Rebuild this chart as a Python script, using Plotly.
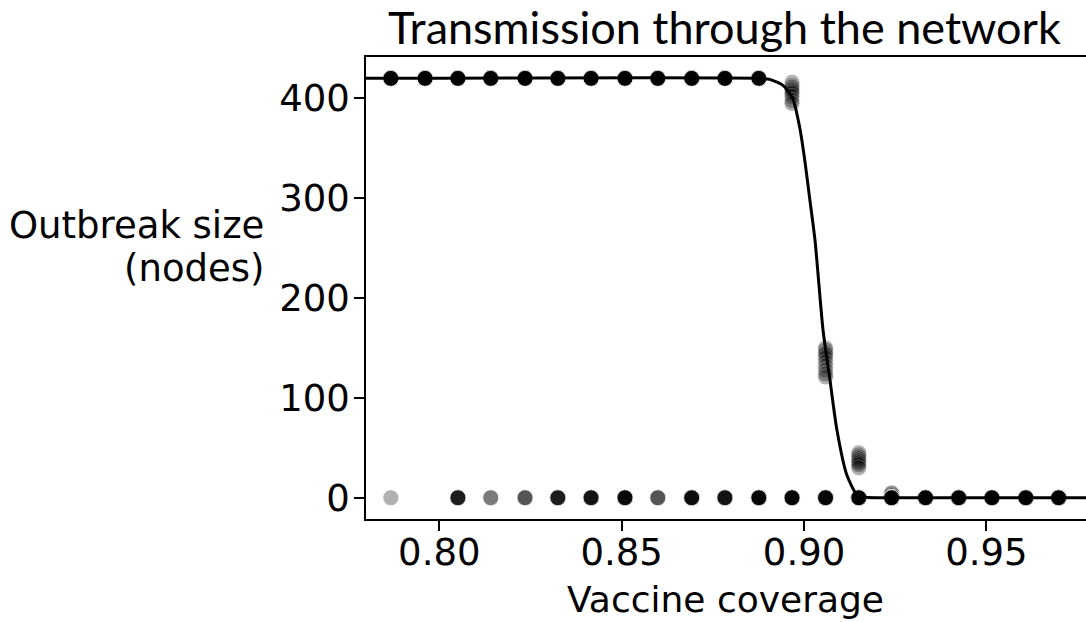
import plotly.graph_objects as go

# ---- data ----
coverage = [0.7867, 0.7961, 0.8051, 0.8141, 0.8235, 0.8325, 0.8416, 0.8509,
            0.8599, 0.8692, 0.8783, 0.8876, 0.8967, 0.9059, 0.9150, 0.9240,
            0.9333, 0.9424, 0.9515, 0.9608, 0.9698]
n_runs = 20
large_outbreak = 420
# number of runs per coverage with no outbreak (size 0)
zero_runs = [1, 0, 6, 2, 3, 6, 7, 9, 3, 8, 7, 10, 11, 10, 12, 17, 20, 20, 20, 20, 20]
# intermediate outbreak sizes observed near the threshold
partial_runs = {
    0.8967: [416, 413, 411, 409, 407, 405, 402, 398, 395],
    0.9059: [150, 148, 145, 143, 140, 136, 132, 128, 124, 121],
    0.9150: [45, 43, 41, 39, 37, 35, 33, 30],
    0.9240: [5, 4, 2],
}
# fitted curve
curve_x = [0.7799, 0.8880, 0.8906, 0.8942, 0.8969, 0.8988, 0.9002, 0.9016,
           0.9030, 0.9052, 0.9071, 0.9090, 0.9117, 0.9145, 0.9170, 0.9200, 0.9773]
curve_y = [420, 420, 419, 413, 400, 371, 338, 298,
           258, 168, 118, 68, 23, 3, 0.5, 0, 0]

title_text = "Transmission through the network"
x_label = "Vaccine coverage"
y_label_lines = ["Outbreak size", "(nodes)"]
x_ticks = [0.80, 0.85, 0.90, 0.95]
x_tick_text = ["0.80", "0.85", "0.90", "0.95"]
y_ticks = [0, 100, 200, 300, 400]
y_tick_text = ["0", "100", "200", "300", "400"]

# ---- build scatter of all runs ----
pts_x, pts_y = [], []
for i, c in enumerate(coverage):
    partial = partial_runs.get(c, [])
    n_zero = zero_runs[i]
    n_large = n_runs - n_zero - len(partial)
    for _ in range(n_large):
        pts_x.append(c); pts_y.append(large_outbreak)
    for v in partial:
        pts_x.append(c); pts_y.append(v)
    for _ in range(n_zero):
        pts_x.append(c); pts_y.append(0)

fig = go.Figure()
fig.add_trace(go.Scatter(
    x=pts_x, y=pts_y, mode="markers",
    marker=dict(color="black", size=16, opacity=0.3,
                line=dict(color="white", width=0.8)),
    showlegend=False, hoverinfo="skip"))
fig.add_trace(go.Scatter(
    x=curve_x, y=curve_y, mode="lines",
    line=dict(color="black", width=3, shape="spline", smoothing=0.6),
    showlegend=False, hoverinfo="skip"))

L, T, W, H = 366, 57, 720, 462
tick_font = dict(family="DejaVu Sans", size=37, color="black")
fig.update_layout(
    width=1086, height=622,
    margin=dict(l=L, r=0, t=T, b=622 - T - H, pad=0),
    paper_bgcolor="white", plot_bgcolor="white",
    font=dict(family="DejaVu Sans", size=37, color="black"),
    xaxis=dict(range=[0.7799, 0.9773], tickvals=x_ticks, ticktext=x_tick_text,
               tickfont=tick_font,
               showgrid=False, zeroline=False, showline=True, linecolor="black",
               linewidth=1.6, mirror=True, ticks="outside", ticklen=10,
               tickwidth=1.5, tickcolor="black", ticklabelstandoff=-10),
    yaxis=dict(range=[-21.3, 441.4], tickvals=y_ticks, ticktext=y_tick_text,
               tickfont=tick_font,
               showgrid=False, zeroline=False, showline=True, linecolor="black",
               linewidth=1.6, mirror=False, ticks="outside", ticklen=10,
               tickwidth=1.5, tickcolor="black", ticklabelstandoff=-3),
)

def px_x(p):
    return (p - L) / W

def px_y(p):
    return (T + H - p) / H

fig.add_annotation(text=title_text, xref="paper", yref="paper",
                   x=px_x(724), y=px_y(27), xanchor="center", yanchor="middle",
                   showarrow=False, font=dict(family="Lato", size=45, color="black"))
fig.add_annotation(text=x_label, xref="paper", yref="paper",
                   x=px_x(725), y=px_y(599), xanchor="center", yanchor="middle",
                   showarrow=False, font=dict(family="DejaVu Sans", size=36))
fig.add_annotation(text=y_label_lines[0], xref="paper", yref="paper",
                   x=px_x(266), y=px_y(225), xanchor="right", yanchor="middle",
                   showarrow=False, font=dict(family="DejaVu Sans", size=37))
fig.add_annotation(text=y_label_lines[1], xref="paper", yref="paper",
                   x=px_x(266), y=px_y(268), xanchor="right", yanchor="middle",
                   showarrow=False, font=dict(family="DejaVu Sans", size=37))

fig.write_html("out.html")
